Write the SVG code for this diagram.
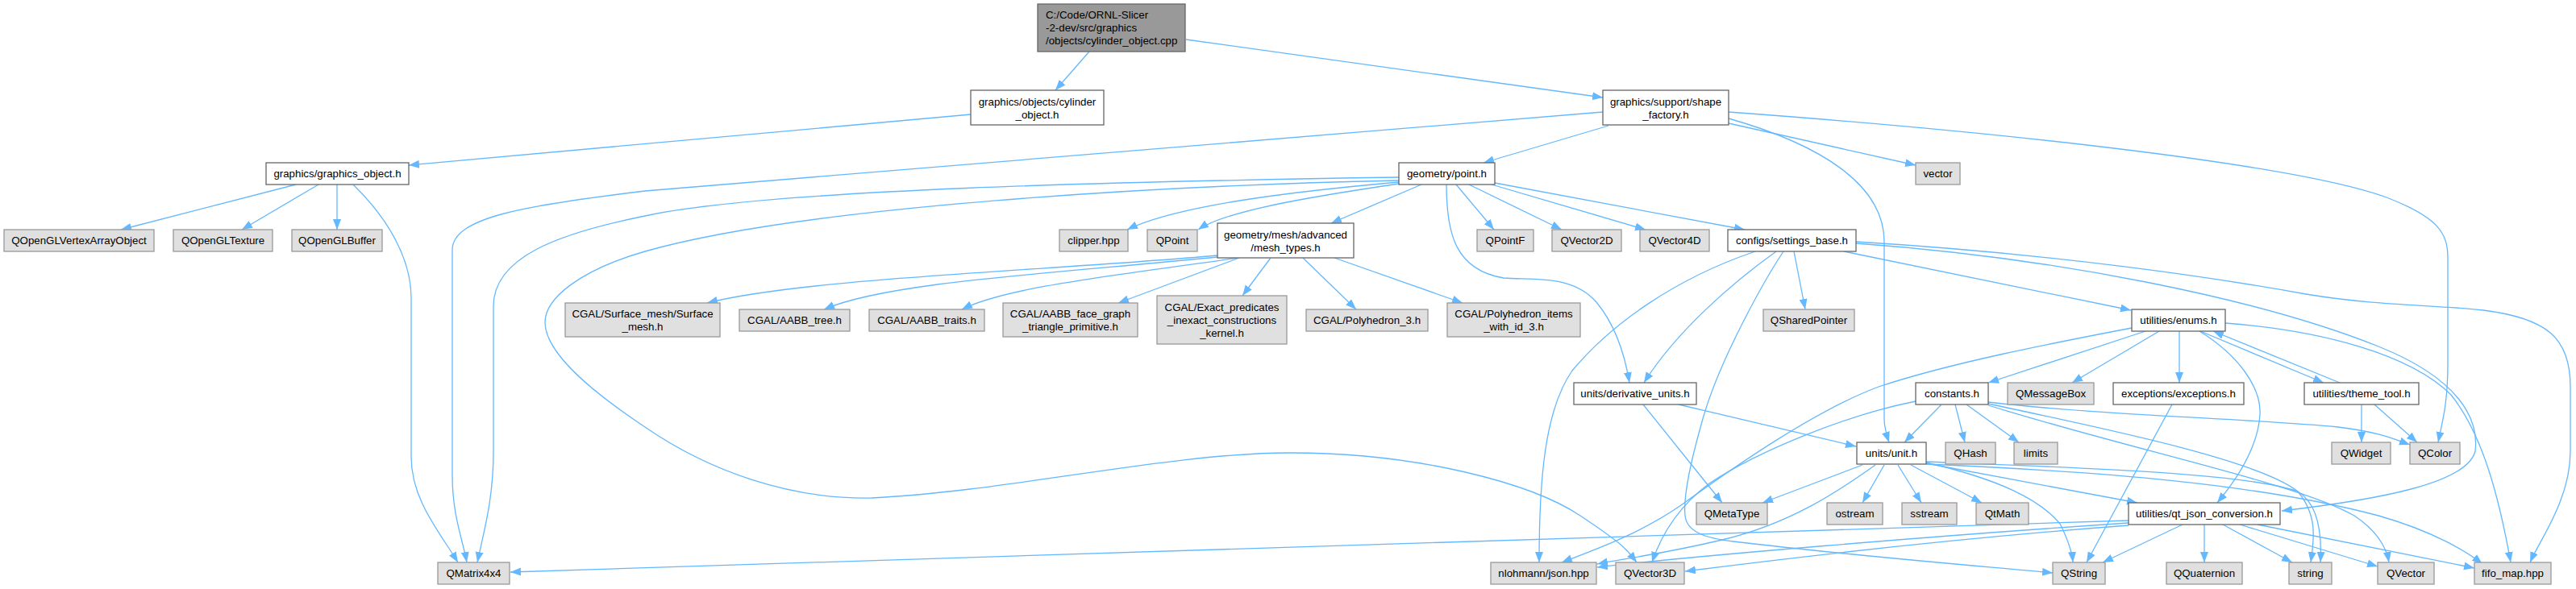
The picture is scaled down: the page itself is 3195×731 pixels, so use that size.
<svg xmlns="http://www.w3.org/2000/svg" width="3195" height="731" viewBox="0 0 3195 731">
<style>
text{font-family:"Liberation Sans",Arial,Helvetica,sans-serif;font-size:13.3px;fill:#000;text-anchor:middle}
.n rect{fill:#fff;stroke:#666;stroke-width:1.3}
.g rect{fill:#e0e0e0;stroke:#999;stroke-width:1.3}
.m rect{fill:#999;stroke:#666;stroke-width:1.3}
.m text{text-anchor:start}
#edges path{fill:none;stroke:#63b8ff;stroke-width:1.3;marker-end:url(#a)}
</style>
<defs>
<marker id="a" markerUnits="userSpaceOnUse" markerWidth="14" markerHeight="11" refX="13" refY="5" orient="auto"><path d="M0,0 L13,5 L0,10 z" fill="#63b8ff"/></marker>
</defs>
<rect width="3195" height="731" fill="#fff"/>
<g id="edges">
<path d="M1351,64 L1309,112"/>
<path d="M1471,49 L1988,121"/>
<path d="M1204,142 L507,205"/>
<path d="M367,229 L150,285"/>
<path d="M395,229 L300,285"/>
<path d="M418,229 L418,285"/>
<path d="M438,229 C480,270 510,320 510,370 L510,567 C510,620 545,660 568,698"/>
<path d="M1988,139 C1500,180 900,225 800,237 C650,255 561,270 561,310 L561,590 C561,640 574,670 579,698"/>
<path d="M1995,156 L1840,202"/>
<path d="M2144,153 L2376,205"/>
<path d="M2144,147 C2260,180 2337,230 2337,300 L2337,520 C2337,530 2340,540 2343,549"/>
<path d="M2144,139 C2500,165 2850,205 2960,245 C3025,270 3036,290 3036,320 L3036,450 C3036,500 3030,520 3024,549"/>
<path d="M1735,220 C1400,225 950,235 800,268 C690,290 612,320 612,380 L612,560 C612,620 600,660 592,698"/>
<path d="M1735,224 C1450,230 1000,255 800,312 C720,335 676,370 676,400 C676,440 740,490 800,530 C880,585 980,620 1081,618 C1250,610 1450,562 1600,562 C1760,562 1900,600 1960,640 S2020,685 2030,698"/>
<path d="M1735,226 C1600,238 1460,255 1398,285"/>
<path d="M1735,228 C1620,245 1520,262 1486,285"/>
<path d="M1763,229 L1651,277"/>
<path d="M1806,229 L1853,285"/>
<path d="M1822,229 L1937,285"/>
<path d="M1850,229 L2041,285"/>
<path d="M1854,227 L2164,285"/>
<path d="M1794,229 C1794,290 1805,335 1865,345 C1900,348 1950,340 1980,375 C2005,405 2016,445 2021,475"/>
<path d="M1510,317 C1300,336 1000,345 877,376"/>
<path d="M1510,319 C1300,340 1100,350 1022,384"/>
<path d="M1535,320 C1400,340 1250,355 1193,384"/>
<path d="M1537,320 L1387,376"/>
<path d="M1576,320 L1541,367"/>
<path d="M1616,320 L1682,384"/>
<path d="M1655,320 L1814,376"/>
<path d="M2225,312 L2239,384"/>
<path d="M2203,312 C2150,350 2080,410 2039,475"/>
<path d="M2177,312 C2080,345 2000,400 1950,460 C1915,510 1909,600 1909,698"/>
<path d="M2212,312 C2190,345 2130,450 2110,527 C2095,580 2088,620 2090,640 C2092,660 2115,668 2150,672 C2300,690 2450,702 2546,711"/>
<path d="M2287,312 L2643,385"/>
<path d="M2302,302 C2550,320 2800,370 2950,430 C3050,470 3075,520 3070,560 C3060,600 2950,620 2830,634"/>
<path d="M2302,300 C2550,315 2750,345 2860,365 C2950,380 3020,378 3080,385 C3160,395 3188,420 3188,480 L3188,560 C3188,620 3150,670 3138,698"/>
<path d="M2760,401 C2880,410 2990,440 3040,490 C3080,540 3100,620 3114,698"/>
<path d="M2644,407 C2550,425 2420,450 2330,480 C2250,510 2150,580 2085,627 C2030,665 1970,685 1937,698"/>
<path d="M2661,411 L2466,475"/>
<path d="M2678,411 L2570,475"/>
<path d="M2703,411 L2703,475"/>
<path d="M2729,411 L2882,475"/>
<path d="M2902,475 L2745,411"/>
<path d="M2728,411 C2775,440 2805,480 2803,515 C2800,560 2770,600 2750,624"/>
<path d="M2694,502 L2588,698"/>
<path d="M2929,502 L2929,549"/>
<path d="M2945,502 L2998,549"/>
<path d="M2082,502 L2302,554"/>
<path d="M2038,502 L2136,624"/>
<path d="M2408,502 L2362,549"/>
<path d="M2425,502 L2437,549"/>
<path d="M2439,502 L2504,549"/>
<path d="M2376,498 C2290,515 2180,560 2120,600 C2080,630 2060,665 2049,698"/>
<path d="M2466,499 C2600,515 2800,520 2900,530 C2950,536 2970,545 2989,552"/>
<path d="M2466,501 C2600,530 2800,570 2850,610 C2875,640 2870,670 2866,698"/>
<path d="M2466,503 C2650,560 2850,600 2920,640 C2950,660 2960,680 2963,698"/>
<path d="M2310,577 L2186,624"/>
<path d="M2337,577 L2310,624"/>
<path d="M2354,577 L2383,624"/>
<path d="M2370,577 L2458,624"/>
<path d="M2389,575 L2651,624"/>
<path d="M2389,574 C2480,595 2530,620 2555,650 C2565,670 2570,685 2571,698"/>
<path d="M2389,573 C2550,580 2780,585 2850,610 C2875,625 2880,660 2878,698"/>
<path d="M2389,576 C2600,585 2800,600 2950,640 C3020,660 3060,685 3079,700"/>
<path d="M2326,577 C2280,610 2220,650 2136,670 C2060,688 2010,694 1981,700"/>
<path d="M2640,646 C2200,660 1500,680 633,710"/>
<path d="M2640,649 C2400,665 2100,690 1981,704"/>
<path d="M2640,652 C2400,670 2200,695 2090,709"/>
<path d="M2707,651 L2608,698"/>
<path d="M2734,651 L2734,698"/>
<path d="M2757,651 L2843,698"/>
<path d="M2778,651 L2949,703"/>
<path d="M2800,651 L3069,705"/>
</g>
<g id="main" class="m"><rect x="1287" y="5" width="183" height="59"/><text x="1297" y="23">C:/Code/ORNL-Slicer</text><text x="1297" y="39">-2-dev/src/graphics</text><text x="1297" y="55">/objects/cylinder_object.cpp</text></g>
<g id="cylinder_object_h" class="n"><rect x="1204" y="112" width="165" height="43"/><text x="1286.5" y="130.5">graphics/objects/cylinder</text><text x="1286.5" y="146.5">_object.h</text></g>
<g id="graphics_object_h" class="n"><rect x="330" y="202" width="177" height="27"/><text x="418.5" y="220">graphics/graphics_object.h</text></g>
<g id="QOpenGLVertexArrayObject" class="g"><rect x="5" y="285" width="186" height="27"/><text x="98" y="303">QOpenGLVertexArrayObject</text></g>
<g id="QOpenGLTexture" class="g"><rect x="215" y="285" width="123" height="27"/><text x="276.5" y="303">QOpenGLTexture</text></g>
<g id="QOpenGLBuffer" class="g"><rect x="362" y="285" width="112" height="27"/><text x="418" y="303">QOpenGLBuffer</text></g>
<g id="QMatrix4x4" class="g"><rect x="543" y="698" width="89" height="27"/><text x="587.5" y="716">QMatrix4x4</text></g>
<g id="shape_factory_h" class="n"><rect x="1988" y="112" width="156" height="43"/><text x="2066" y="130.5">graphics/support/shape</text><text x="2066" y="146.5">_factory.h</text></g>
<g id="point_h" class="n"><rect x="1735" y="202" width="119" height="27"/><text x="1794.5" y="220">geometry/point.h</text></g>
<g id="vector" class="g"><rect x="2376" y="202" width="55" height="27"/><text x="2403.5" y="220">vector</text></g>
<g id="clipper_hpp" class="g"><rect x="1314" y="285" width="85" height="27"/><text x="1356.5" y="303">clipper.hpp</text></g>
<g id="QPoint" class="g"><rect x="1423" y="285" width="62" height="27"/><text x="1454" y="303">QPoint</text></g>
<g id="mesh_types_h" class="n"><rect x="1510" y="277" width="169" height="43"/><text x="1594.5" y="295.5">geometry/mesh/advanced</text><text x="1594.5" y="311.5">/mesh_types.h</text></g>
<g id="QPointF" class="g"><rect x="1832" y="285" width="70" height="27"/><text x="1867" y="303">QPointF</text></g>
<g id="QVector2D" class="g"><rect x="1925" y="285" width="86" height="27"/><text x="1968" y="303">QVector2D</text></g>
<g id="QVector4D" class="g"><rect x="2034" y="285" width="86" height="27"/><text x="2077" y="303">QVector4D</text></g>
<g id="settings_base_h" class="n"><rect x="2143" y="285" width="159" height="27"/><text x="2222.5" y="303">configs/settings_base.h</text></g>
<g id="Surface_mesh_h" class="g"><rect x="701" y="376" width="192" height="42"/><text x="797" y="394">CGAL/Surface_mesh/Surface</text><text x="797" y="410">_mesh.h</text></g>
<g id="AABB_tree_h" class="g"><rect x="917" y="384" width="137" height="27"/><text x="985.5" y="402">CGAL/AABB_tree.h</text></g>
<g id="AABB_traits_h" class="g"><rect x="1078" y="384" width="143" height="27"/><text x="1149.5" y="402">CGAL/AABB_traits.h</text></g>
<g id="AABB_face_graph_h" class="g"><rect x="1244" y="376" width="167" height="42"/><text x="1327.5" y="394">CGAL/AABB_face_graph</text><text x="1327.5" y="410">_triangle_primitive.h</text></g>
<g id="Exact_predicates_h" class="g"><rect x="1435" y="367" width="161" height="60"/><text x="1515.5" y="386">CGAL/Exact_predicates</text><text x="1515.5" y="402">_inexact_constructions</text><text x="1515.5" y="418">_kernel.h</text></g>
<g id="Polyhedron_3_h" class="g"><rect x="1620" y="384" width="151" height="27"/><text x="1695.5" y="402">CGAL/Polyhedron_3.h</text></g>
<g id="Polyhedron_items_h" class="g"><rect x="1795" y="376" width="165" height="42"/><text x="1877.5" y="394">CGAL/Polyhedron_items</text><text x="1877.5" y="410">_with_id_3.h</text></g>
<g id="QSharedPointer" class="g"><rect x="2187" y="384" width="113" height="27"/><text x="2243.5" y="402">QSharedPointer</text></g>
<g id="enums_h" class="n"><rect x="2644" y="384" width="116" height="27"/><text x="2702" y="402">utilities/enums.h</text></g>
<g id="derivative_units_h" class="n"><rect x="1952" y="475" width="152" height="27"/><text x="2028" y="493">units/derivative_units.h</text></g>
<g id="constants_h" class="n"><rect x="2376" y="475" width="90" height="27"/><text x="2421" y="493">constants.h</text></g>
<g id="QMessageBox" class="g"><rect x="2490" y="475" width="107" height="27"/><text x="2543.5" y="493">QMessageBox</text></g>
<g id="exceptions_h" class="n"><rect x="2621" y="475" width="162" height="27"/><text x="2702" y="493">exceptions/exceptions.h</text></g>
<g id="theme_tool_h" class="n"><rect x="2858" y="475" width="142" height="27"/><text x="2929" y="493">utilities/theme_tool.h</text></g>
<g id="unit_h" class="n"><rect x="2303" y="549" width="86" height="27"/><text x="2346" y="567">units/unit.h</text></g>
<g id="QHash" class="g"><rect x="2413" y="549" width="62" height="27"/><text x="2444" y="567">QHash</text></g>
<g id="limits" class="g"><rect x="2498" y="549" width="54" height="27"/><text x="2525" y="567">limits</text></g>
<g id="QWidget" class="g"><rect x="2892" y="549" width="73" height="27"/><text x="2928.5" y="567">QWidget</text></g>
<g id="QColor" class="g"><rect x="2989" y="549" width="62" height="27"/><text x="3020" y="567">QColor</text></g>
<g id="QMetaType" class="g"><rect x="2104" y="624" width="88" height="27"/><text x="2148" y="642">QMetaType</text></g>
<g id="ostream" class="g"><rect x="2266" y="624" width="69" height="27"/><text x="2300.5" y="642">ostream</text></g>
<g id="sstream" class="g"><rect x="2359" y="624" width="68" height="27"/><text x="2393" y="642">sstream</text></g>
<g id="QtMath" class="g"><rect x="2451" y="624" width="65" height="27"/><text x="2483.5" y="642">QtMath</text></g>
<g id="qt_json_conversion_h" class="n"><rect x="2640" y="624" width="188" height="27"/><text x="2734" y="642">utilities/qt_json_conversion.h</text></g>
<g id="nlohmann_json_hpp" class="g"><rect x="1849" y="698" width="131" height="27"/><text x="1914.5" y="716">nlohmann/json.hpp</text></g>
<g id="QVector3D" class="g"><rect x="2004" y="698" width="85" height="27"/><text x="2046.5" y="716">QVector3D</text></g>
<g id="QString" class="g"><rect x="2546" y="698" width="65" height="27"/><text x="2578.5" y="716">QString</text></g>
<g id="QQuaternion" class="g"><rect x="2687" y="698" width="94" height="27"/><text x="2734" y="716">QQuaternion</text></g>
<g id="string" class="g"><rect x="2839" y="698" width="53" height="27"/><text x="2865.5" y="716">string</text></g>
<g id="QVector" class="g"><rect x="2949" y="698" width="70" height="27"/><text x="2984" y="716">QVector</text></g>
<g id="fifo_map_hpp" class="g"><rect x="3069" y="698" width="95" height="27"/><text x="3116.5" y="716">fifo_map.hpp</text></g>
</svg>
